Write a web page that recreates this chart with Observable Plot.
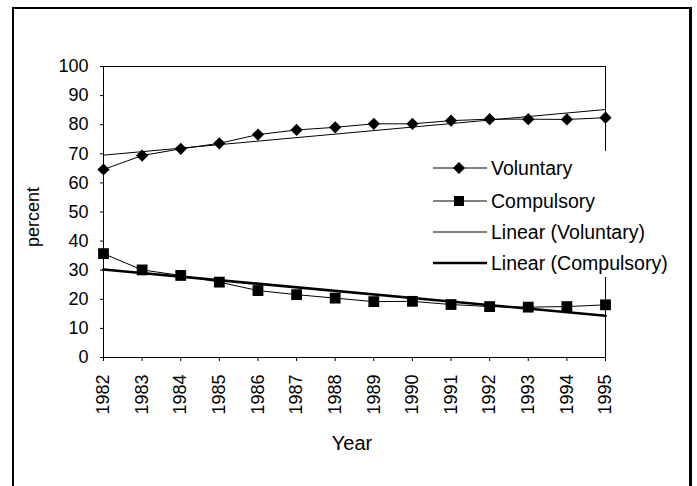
<!DOCTYPE html>
<html>
<head>
<meta charset="utf-8">
<script src="https://cdn.jsdelivr.net/npm/d3@7"></script>
<script src="https://cdn.jsdelivr.net/npm/@observablehq/plot@0.6"></script>
<style>
  html, body { margin: 0; padding: 0; background: white; }
  #wrap { position: relative; width: 697px; height: 486px; overflow: hidden; font-family: "Liberation Sans", Arial, sans-serif; color: black; }
  #chart { position: absolute; left: 0; top: 0; }
  #outer { position: absolute; left: 12px; top: 7px; width: 680px; height: 486px; border-style: solid; border-color: black; border-width: 2px 3px 2px 2px; box-sizing: border-box; pointer-events: none; }
  .title { position: absolute; white-space: nowrap; line-height: 1; }
  #ytitle { left: 33px; top: 217px; font-size: 18px; transform: translate(-50%, -50%) rotate(-90deg); }
  #xtitle { left: 352px; top: 443px; font-size: 20px; transform: translate(-50%, -50%); }
  #legend { position: absolute; left: 423px; top: 151px; width: 250px; height: 126px; background: white; }
  .item { position: absolute; left: 10px; height: 22px; display: flex; align-items: center; font-size: 19.5px; white-space: nowrap; }
  .item svg { margin-right: 4px; }
</style>
</head>
<body>
<div id="wrap">
  <div id="chart"></div>
  <div id="outer"></div>
  <div id="ytitle" class="title">percent</div>
  <div id="xtitle" class="title">Year</div>
  <div id="legend"></div>
</div>
<script>
const years = [1982, 1983, 1984, 1985, 1986, 1987, 1988, 1989, 1990, 1991, 1992, 1993, 1994, 1995];
const voluntary = [64.6, 69.4, 71.7, 73.6, 76.6, 78.2, 79.1, 80.3, 80.3, 81.4, 81.9, 81.9, 81.8, 82.4];
const compulsory = [35.7, 30.1, 28.2, 25.9, 23.0, 21.6, 20.4, 19.2, 19.3, 18.2, 17.5, 17.3, 17.5, 18.1];
const yTicks = [0, 10, 20, 30, 40, 50, 60, 70, 80, 90, 100];
const seriesNames = ["Voluntary", "Compulsory"];
const legendLabels = ["Voluntary", "Compulsory", "Linear (Voluntary)", "Linear (Compulsory)"];

const volData = years.map((year, i) => ({year, value: voluntary[i], series: seriesNames[0]}));
const comData = years.map((year, i) => ({year, value: compulsory[i], series: seriesNames[1]}));

const chart = Plot.plot({
  width: 697,
  height: 486,
  marginLeft: 103,
  marginRight: 92,
  marginTop: 66,
  marginBottom: 129,
  style: {fontFamily: "'Liberation Sans', Arial, sans-serif", fontSize: "18px", background: "transparent", color: "black"},
  x: {domain: [1982, 1995]},
  y: {domain: [0, 100]},
  marks: [
    Plot.frame({stroke: "black", strokeWidth: 1}),
    Plot.axisY({ticks: yTicks, tickSize: 3, tickPadding: 12, label: null, fontSize: 18, stroke: "black"}),
    Plot.axisX({ticks: years, tickFormat: d => String(d), tickSize: 4, tickPadding: 13, tickRotate: -90, label: null, fontSize: 18, stroke: "black"}),
    Plot.linearRegressionY(volData, {x: "year", y: "value", ci: 0, stroke: "black", strokeWidth: 1}),
    Plot.linearRegressionY(comData, {x: "year", y: "value", ci: 0, stroke: "black", strokeWidth: 2.6}),
    Plot.line(volData, {x: "year", y: "value", stroke: "black", strokeWidth: 1}),
    Plot.line(comData, {x: "year", y: "value", stroke: "black", strokeWidth: 1}),
    Plot.dot(volData, {x: "year", y: "value", symbol: "diamond2", r: 5.5, fill: "black", stroke: "none"}),
    Plot.dot(comData, {x: "year", y: "value", symbol: "square", r: 6.1, fill: "black", stroke: "none"})
  ]
});
document.getElementById("chart").appendChild(chart);

// Legend
const legend = document.getElementById("legend");
const rowTops = [6, 39, 70, 101];
legendLabels.forEach((label, i) => {
  const div = document.createElement("div");
  div.className = "item";
  div.style.top = rowTops[i] + "px";
  let glyph = "";
  if (i === 0) glyph = '<line x1="0" y1="11" x2="54" y2="11" stroke="black" stroke-width="1"/><polygon points="26,5 32,11 26,17 20,11" fill="black"/>';
  if (i === 1) glyph = '<line x1="0" y1="11" x2="54" y2="11" stroke="black" stroke-width="1"/><rect x="21" y="6" width="10" height="10" fill="black"/>';
  if (i === 2) glyph = '<line x1="0" y1="11" x2="54" y2="11" stroke="black" stroke-width="1"/>';
  if (i === 3) glyph = '<line x1="0" y1="11" x2="54" y2="11" stroke="black" stroke-width="2.6"/>';
  div.innerHTML = '<svg width="54" height="22">' + glyph + '</svg><span>' + label + '</span>';
  legend.appendChild(div);
});
</script>
</body>
</html>
